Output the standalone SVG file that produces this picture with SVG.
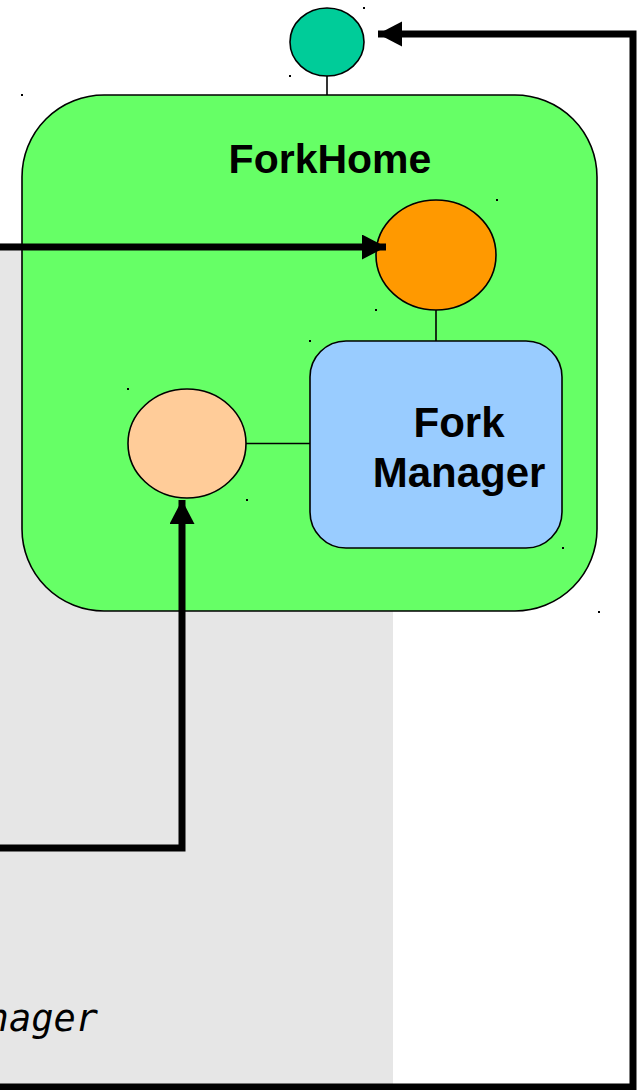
<svg xmlns="http://www.w3.org/2000/svg" width="642" height="1090" viewBox="0 0 642 1090">
<style>
.shape{stroke:#000;stroke-width:1.6}
.link{stroke:#000;stroke-width:1.6;fill:none}
.conn{stroke:#000;stroke-width:7;fill:none;stroke-linejoin:miter}
.lbl{font-family:"Liberation Sans",Arial,sans-serif;font-weight:bold;font-size:41px;fill:#000;text-anchor:middle}
.lbl2{font-size:42px}
.mono{font-family:"DejaVu Sans Mono",monospace;font-style:oblique;font-size:37px;fill:#000}
.dot{fill:#000}
</style>
<defs>
<marker id="ah" markerUnits="userSpaceOnUse" markerWidth="25" markerHeight="26" refX="24" refY="12.5" orient="auto">
<path d="M0,0 L24,12.5 L0,25 Z" fill="#000"/>
</marker>
</defs>
<rect x="0" y="0" width="642" height="1090" fill="#fff"/>
<rect id="panel" x="0" y="243" width="393" height="842" fill="#e6e6e6"/>
<text class="mono" x="98" y="1031" text-anchor="end">nager</text>
<g id="forkhome">
<rect class="shape" x="22" y="95" width="575" height="516" rx="82" ry="82" fill="#66ff66"/>
<text class="lbl" x="330" y="173">ForkHome</text>
</g>
<g id="links">
<line class="link" x1="327" y1="76" x2="327" y2="95"/>
<line class="link" x1="436" y1="310" x2="436" y2="341"/>
<line class="link" x1="246" y1="443.5" x2="310" y2="443.5"/>
</g>
<g id="facet">
<ellipse class="shape" cx="327" cy="42" rx="37" ry="34" fill="#00cc99"/>
</g>
<g id="receptacle">
<ellipse class="shape" cx="436" cy="255" rx="60" ry="55" fill="#ff9900"/>
</g>
<g id="event-sink">
<ellipse class="shape" cx="187" cy="443.5" rx="59" ry="54.5" fill="#ffcc99"/>
</g>
<g id="fork-manager">
<rect class="shape" x="310" y="341" width="252" height="207" rx="36" ry="36" fill="#99ccff"/>
<text class="lbl lbl2" x="459" y="437">Fork</text>
<text class="lbl lbl2" x="459" y="487">Manager</text>
</g>
<g id="connectors">
<path class="conn" d="M0,247 H386" marker-end="url(#ah)"/>
<path class="conn" d="M0,848 H182 V500" marker-end="url(#ah)"/>
<path class="conn" d="M0,1087 H633 V34 H378" marker-end="url(#ah)"/>
</g>
<g id="marks">
<rect class="dot" x="363" y="7" width="2" height="2"/>
<rect class="dot" x="289" y="75" width="2" height="2"/>
<rect class="dot" x="21" y="94" width="2" height="2"/>
<rect class="dot" x="496" y="199" width="2" height="2"/>
<rect class="dot" x="375" y="309" width="2" height="2"/>
<rect class="dot" x="309" y="340" width="2" height="2"/>
<rect class="dot" x="127" y="388" width="2" height="2"/>
<rect class="dot" x="246" y="499" width="2" height="2"/>
<rect class="dot" x="562" y="547" width="2" height="2"/>
<rect class="dot" x="598" y="611" width="2" height="2"/>
</g>
</svg>
